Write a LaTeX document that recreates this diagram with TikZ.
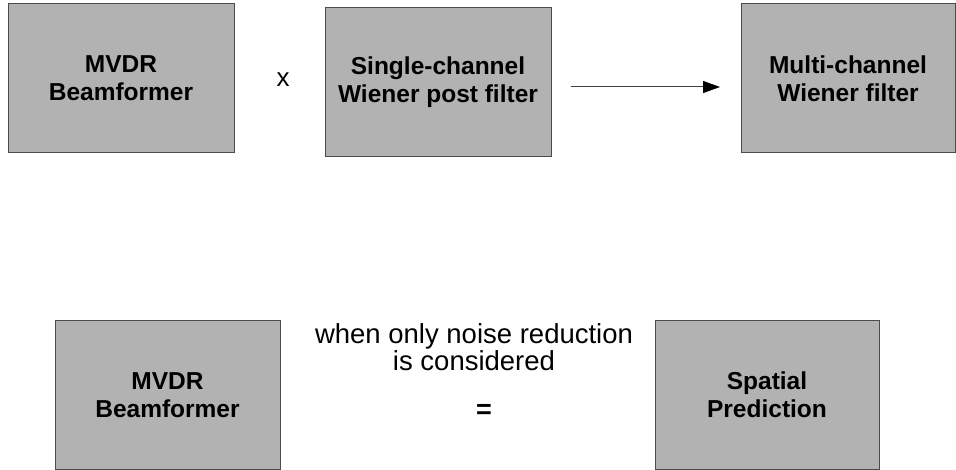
\documentclass[tikz,border=0pt]{standalone}
\usepackage{fontspec}
\setmainfont{Liberation Sans}
\usetikzlibrary{arrows.meta}
\begin{document}
\begin{tikzpicture}[x=1pt,y=-1pt,
  blockbox/.style={draw=black!70, line width=1pt, fill=black!30, inner sep=0pt,
    align=center, font=\fontsize{24.5}{27.7}\selectfont\bfseries},
  plaintext/.style={inner sep=0pt, font=\fontsize{27.5}{27.7}\selectfont},
  arr/.style={draw=black!75, line width=1pt, -{Triangle[length=17pt,width=12pt,color=black]}}]
\useasboundingbox (0,0) rectangle (956,470);
\node[blockbox, minimum width=226pt, minimum height=149pt] (b1) at (121,78.5) {MVDR\\Beamformer};
\node[blockbox, minimum width=226pt, minimum height=149pt] (b2) at (438,82.5) {Single-channel\\Wiener post filter};
\node[blockbox, minimum width=214pt, minimum height=149pt] (b3) at (848,78.5) {Multi-channel\\Wiener filter};
\node[blockbox, minimum width=225pt, minimum height=148pt] (b4) at (167.5,395) {MVDR\\Beamformer};
\node[blockbox, minimum width=224pt, minimum height=148pt] (b5) at (767,395) {Spatial\\Prediction};
\node[plaintext, font=\fontsize{26}{27.7}\selectfont] (times) at (283,80) {x};
\node[plaintext, align=center, anchor=north] (cond) at (474,323) {when only noise reduction\\is considered};
\node[plaintext, font=\fontsize{27}{27.7}\selectfont\bfseries] (eq) at (484,411.5) {=};
\coordinate (a1) at (571,87);
\coordinate (a2) at (720,87);
\draw[arr] (a1) -- (a2);
\end{tikzpicture}
\end{document}
